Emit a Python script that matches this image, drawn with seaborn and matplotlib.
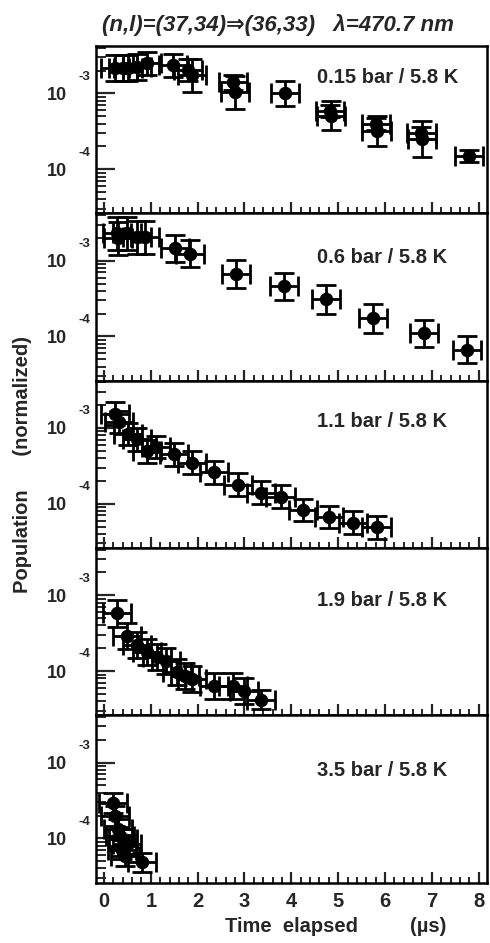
import numpy as np
import pandas as pd
import matplotlib
matplotlib.use("Agg")
import matplotlib.pyplot as plt
import seaborn as sns
from matplotlib.ticker import FixedLocator, MultipleLocator, LogLocator, FixedFormatter, NullFormatter

# panel captions (pressure / temperature)
panel_labels = ["0.15 bar / 5.8 K", "0.6 bar / 5.8 K", "1.1 bar / 5.8 K",
                "1.9 bar / 5.8 K", "3.5 bar / 5.8 K"]

# decade ticks and their exponents
decades = [1e-4, 1e-3]
exponents = ["-4", "-3"]

# time elapsed (us), normalized population, y error half-length (decades)
t_015 = [0.23, 0.41, 0.51, 0.70, 0.92, 1.47, 1.79, 1.88, 2.75, 2.79, 3.86, 4.82, 4.84, 5.80, 5.82, 6.78, 6.80, 7.80]
p_015 = [2.15e-3, 2.15e-3, 2.15e-3, 2.22e-3, 2.5e-3, 2.36e-3, 2.03e-3, 1.74e-3, 1.40e-3, 1.03e-3,
         1.0e-3, 5.9e-4, 5.1e-4, 4.0e-4, 3.2e-4, 3.0e-4, 2.5e-4, 1.49e-4]
e_015 = [0.17, 0.17, 0.17, 0.17, 0.15, 0.15, 0.15, 0.22, 0.10, 0.22,
         0.17, 0.08, 0.19, 0.08, 0.20, 0.08, 0.24, 0.08]

t_06 = [0.28, 0.30, 0.49, 0.70, 0.87, 1.51, 1.83, 2.81, 3.84, 4.75, 5.74, 6.84, 7.76]
p_06 = [2.29e-3, 1.97e-3, 2.29e-3, 2.03e-3, 2.03e-3, 1.45e-3, 1.24e-3, 6.7e-4, 4.6e-4, 3.1e-4,
        1.74e-4, 1.10e-4, 6.7e-5]
e_06 = [0.22, 0.22, 0.22, 0.22, 0.22, 0.18, 0.18, 0.18, 0.18, 0.19, 0.19, 0.18, 0.18]

t_11 = [0.23, 0.32, 0.51, 0.70, 0.92, 1.11, 1.49, 1.88, 2.35, 2.86, 3.35, 3.77, 4.24, 4.80, 5.31, 5.82]
p_11 = [1.54e-3, 1.20e-3, 8.3e-4, 7.1e-4, 4.9e-4, 5.6e-4, 4.5e-4, 3.5e-4, 2.6e-4, 1.79e-4,
        1.40e-4, 1.24e-4, 8.3e-5, 6.7e-5, 5.6e-5, 4.9e-5]
e_11 = [0.15, 0.15, 0.15, 0.15, 0.15, 0.15, 0.15, 0.15, 0.15, 0.15, 0.15, 0.15, 0.15, 0.15, 0.15, 0.15]

t_19 = [0.28, 0.49, 0.70, 0.92, 1.13, 1.32, 1.56, 1.73, 1.88, 2.35, 2.75, 2.99, 3.35]
p_19 = [5.75e-4, 2.93e-4, 2.22e-4, 1.79e-4, 1.54e-4, 1.36e-4, 9.7e-5, 8.6e-5, 7.8e-5, 6.3e-5,
        6.3e-5, 5.4e-5, 4.2e-5]
e_19 = [0.18, 0.17, 0.17, 0.17, 0.17, 0.17, 0.17, 0.17, 0.17, 0.17, 0.17, 0.17, 0.12]

t_35 = [0.19, 0.23, 0.30, 0.34, 0.41, 0.49, 0.38, 0.45, 0.81]
p_35 = [2.93e-4, 1.96e-4, 1.32e-4, 1.06e-4, 9.7e-5, 8.3e-5, 7.1e-5, 5.8e-5, 4.8e-5]
e_35 = [0.13, 0.13, 0.13, 0.13, 0.13, 0.13, 0.13, 0.13, 0.13]

x_err = 0.3

panels = [(t_015, p_015, e_015), (t_06, p_06, e_06), (t_11, p_11, e_11),
          (t_19, p_19, e_19), (t_35, p_35, e_35)]
label_y = [0.814, 0.737, 0.755, 0.689, 0.671]

frames = []
for lab, (t, p, e) in zip(panel_labels, panels):
    frames.append(pd.DataFrame({"panel": lab, "time": t, "pop": p, "dex": e}))
data = pd.concat(frames, ignore_index=True)

sns.set_theme(style="ticks")
plt.rcParams['font.family'] = ['Liberation Sans', 'DejaVu Sans']

fig, axes = plt.subplots(5, 1, sharex=True, figsize=(4.9, 9.43), dpi=100)
fig.subplots_adjust(left=0.196, right=0.994, top=0.951, bottom=0.064, hspace=0)

for ax, lab, ly in zip(axes, panel_labels, label_y):
    sub = data[data['panel'] == lab]
    lo = sub['pop'] * (1 - 10 ** (-sub['dex']))
    hi = sub['pop'] * (10 ** sub['dex'] - 1)
    ax.errorbar(sub['time'], sub['pop'], xerr=x_err, yerr=[lo, hi], fmt='none',
                ecolor='black', elinewidth=2.0, capsize=7, capthick=2.0, zorder=2)
    sns.scatterplot(data=sub, x='time', y='pop', ax=ax, color='black', s=95,
                    edgecolor='black', linewidth=0, zorder=3, legend=False)
    ax.set_yscale('log')
    ax.set_ylim(2.6e-5, 4.2e-3)
    ax.set_xlim(-0.17, 8.18)
    ax.set_xlabel('')
    ax.set_ylabel('')

    # ROOT-like "10" with a detached exponent
    ax.yaxis.set_major_locator(FixedLocator(decades))
    ax.yaxis.set_major_formatter(FixedFormatter(["10"] * len(decades)))
    ax.yaxis.set_minor_locator(LogLocator(base=10, subs=np.arange(2, 10)))
    ax.yaxis.set_minor_formatter(NullFormatter())
    for val, ex in zip(decades, exponents):
        ax.annotate(ex, xy=(0, val), xycoords=('axes fraction', 'data'),
                    xytext=(-4.3, 12), textcoords='offset points',
                    ha='right', va='center', fontsize=9.5, fontweight='bold',
                    annotation_clip=False)

    ax.xaxis.set_major_locator(MultipleLocator(1))
    ax.xaxis.set_minor_locator(MultipleLocator(0.2))

    ax.tick_params(axis='y', which='major', direction='in', length=14, width=1.6,
                   left=True, right=False, labelsize=13, pad=21)
    ax.tick_params(axis='y', which='minor', direction='in', length=7, width=1.4,
                   left=True, right=False)
    ax.tick_params(axis='x', which='major', direction='in', length=8, width=1.6,
                   bottom=True, top=False, labelsize=14.5, pad=7)
    ax.tick_params(axis='x', which='minor', direction='in', length=4, width=1.4,
                   bottom=True, top=False)
    for lbl in ax.get_xticklabels() + ax.get_yticklabels():
        lbl.set_fontweight('bold')
    for sp in ax.spines.values():
        sp.set_visible(True)
        sp.set_linewidth(1.8)
        sp.set_color('black')

    ax.text(4.54, ly, lab, transform=ax.get_xaxis_transform(), ha='left', va='center',
            fontsize=14.5, fontweight='bold')

fig.text(0.208, 0.9735, "(n,l)=(37,34)\u21d2(36,33)   \u03bb=470.7 nm", ha='left', va='center',
         fontsize=16, fontweight='bold', fontstyle='italic')
fig.text(0.045, 0.507, "Population      (normalized)", rotation=90, ha='center', va='center',
         fontsize=14.5, fontweight='bold')
fig.text(0.459, 0.017, "Time  elapsed", ha='left', va='center', fontsize=14.5, fontweight='bold')
fig.text(0.837, 0.017, "(\u00b5s)", ha='left', va='center', fontsize=14.5, fontweight='bold')

fig.savefig('out.png', dpi=100)
